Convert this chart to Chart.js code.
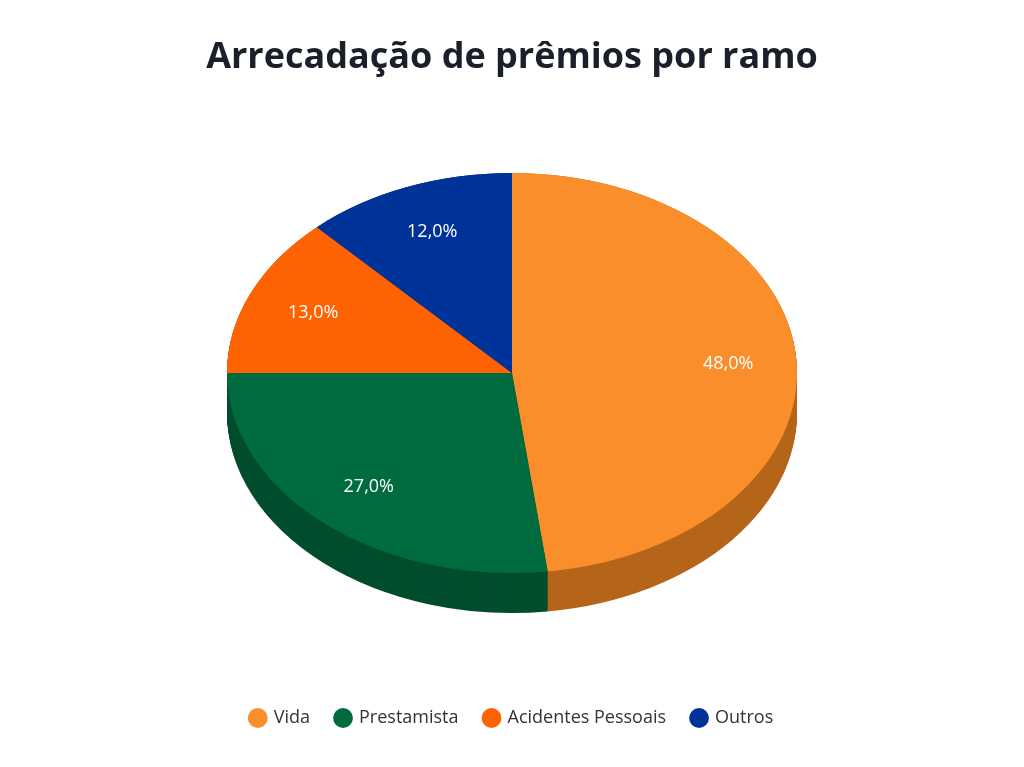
<!DOCTYPE html>
<html>
<head>
<meta charset="utf-8">
<script src="https://cdn.jsdelivr.net/npm/chart.js@4/dist/chart.umd.min.js"></script>
<style>
  html, body { margin: 0; padding: 0; background: #fff; }
  #wrap { width: 1024px; height: 767px; }
</style>
</head>
<body>
<div id="wrap"><canvas id="chart"></canvas></div>
<script>
const categories = ['Vida', 'Prestamista', 'Acidentes Pessoais', 'Outros'];
const shares = [48, 27, 13, 12];
const topColors = ['#F98E2B', '#006B3F', '#FF6200', '#003399'];
const sideColors = ['#B5651A', '#004D2D', '#B84700', '#002470'];

// ── Faux 3D: flatten the pie and extrude it ──
const CX = 512, CY = 373, RX = 285, RY = 200, DEPTH = 40;

const pie3d = {
    id: 'pie3d',
    beforeDatasetsDraw(chart) {
        const meta = chart.getDatasetMeta(0);
        const arc0 = meta.data[0];
        const r = arc0.outerRadius, ax = arc0.x, ay = arc0.y;
        const sx = RX / r, sy = RY / r;
        const ctx = chart.ctx;
        ctx.save();
        ctx.translate(CX, CY);
        ctx.scale(sx, sy);
        ctx.translate(-ax, -ay);
        // side wall: stack darker copies below the top face
        const step = 1 / sy;
        for (let d = DEPTH / sy; d > 0; d -= step) {
            ctx.save();
            ctx.translate(0, d);
            meta.data.forEach((el, i) => {
                const bg = el.options.backgroundColor;
                el.options.backgroundColor = sideColors[i];
                el.draw(ctx);
                el.options.backgroundColor = bg;
            });
            ctx.restore();
        }
    },
    afterDatasetsDraw(chart) {
        const ctx = chart.ctx;
        ctx.restore();
        const meta = chart.getDatasetMeta(0);
        ctx.save();
        ctx.fillStyle = '#fff';
        ctx.font = '18px "Open Sans", sans-serif';
        ctx.textAlign = 'center';
        ctx.textBaseline = 'middle';
        meta.data.forEach((el, i) => {
            const a = (el.startAngle + el.endAngle) / 2;
            const x = CX + RX * 0.76 * Math.cos(a);
            const y = CY + RY * 0.76 * Math.sin(a);
            ctx.fillText(shares[i].toFixed(1).replace('.', ',') + '%', x, y);
        });
        ctx.restore();
    }
};

new Chart(document.getElementById('chart'), {
    type: 'pie',
    data: {
        labels: categories,
        datasets: [{ data: shares, backgroundColor: topColors, borderWidth: 0 }]
    },
    options: {
        responsive: true, maintainAspectRatio: false, animation: false,
        layout: { padding: { bottom: 30 } },
        plugins: {
            title: {
                display: true, text: 'Arrecadação de prêmios por ramo',
                color: '#1B1F2A', font: { family: '"Open Sans", sans-serif', size: 36, weight: 'bold' },
                padding: { top: 36, bottom: 20 }
            },
            legend: {
                position: 'bottom',
                labels: {
                    usePointStyle: true, pointStyle: 'circle', boxWidth: 14, boxHeight: 14,
                    padding: 26, color: '#333', font: { family: '"Open Sans", sans-serif', size: 18 }
                }
            },
            tooltip: { enabled: false }
        }
    },
    plugins: [pie3d]
});
</script>
</body>
</html>
